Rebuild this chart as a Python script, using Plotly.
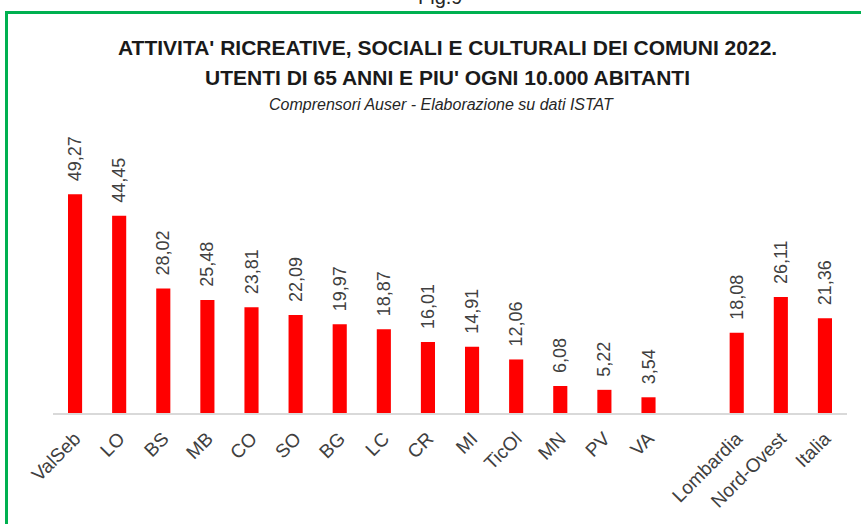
import plotly.graph_objects as go

categories = ["ValSeb", "LO", "BS", "MB", "CO", "SO", "BG", "LC", "CR", "MI",
              "TicOl", "MN", "PV", "VA", " ", "Lombardia", "Nord-Ovest", "Italia"]
values = [49.27, 44.45, 28.02, 25.48, 23.81, 22.09, 19.97, 18.87, 16.01, 14.91,
          12.06, 6.08, 5.22, 3.54, None, 18.08, 26.11, 21.36]
labels = [("" if v is None else "\u00a0\u00a0" + f"{v:.2f}".replace(".", ",")) for v in values]

W, H = 861, 524
L, R, T, B = 53, 14, 120, 111
pw, ph = W - L - R, H - T - B

def px_x(p):
    return (p - L) / pw

def px_y(p):
    return (H - B - p) / ph

sans = "Liberation Sans, Arial, sans-serif"

fig = go.Figure()
fig.add_trace(go.Bar(
    x=categories, y=values, text=labels,
    textposition="outside", textangle=-90, constraintext="none",
    textfont=dict(family=sans, size=18, color="#404040"),
    marker=dict(color="#FF0000", line=dict(width=0)),
    cliponaxis=False,
))

fig.update_layout(
    width=W, height=H,
    margin=dict(l=L, r=R, t=T, b=B, autoexpand=False),
    paper_bgcolor="white", plot_bgcolor="white",
    bargap=0.68,
    showlegend=False,
    xaxis=dict(type="category", categoryorder="array", categoryarray=categories,
               tickangle=-45, showgrid=False, showline=True, linecolor="#d9d9d9",
               linewidth=2, ticks="", automargin=False, ticklabelstandoff=5,
               tickfont=dict(family=sans, size=19, color="#404040")),
    yaxis=dict(range=[0, 66], visible=False, showgrid=False),
)

fig.add_annotation(text="<b>ATTIVITA' RICREATIVE, SOCIALI E CULTURALI DEI COMUNI 2022.</b>",
                   xref="paper", yref="paper", x=px_x(447), y=px_y(48),
                   xanchor="center", yanchor="middle", showarrow=False,
                   font=dict(family=sans, size=21, color="#1a1a1a"))
fig.add_annotation(text="<b>UTENTI DI 65 ANNI E PIU' OGNI 10.000 ABITANTI</b>",
                   xref="paper", yref="paper", x=px_x(447), y=px_y(77),
                   xanchor="center", yanchor="middle", showarrow=False,
                   font=dict(family=sans, size=21, color="#1a1a1a"))
fig.add_annotation(text="<i>Comprensori Auser - Elaborazione su dati ISTAT</i>",
                   xref="paper", yref="paper", x=px_x(441), y=px_y(104),
                   xanchor="center", yanchor="middle", showarrow=False,
                   font=dict(family=sans, size=16, color="#262626"))
fig.add_annotation(text="Fig.9",
                   xref="paper", yref="paper", x=px_x(440), y=px_y(10),
                   xanchor="center", yanchor="bottom", showarrow=False,
                   font=dict(family=sans, size=20, color="#262626"))

green = "#00B050"
fig.add_shape(type="line", xref="paper", yref="paper",
              x0=px_x(5), x1=px_x(880), y0=px_y(12.5), y1=px_y(12.5),
              line=dict(color=green, width=3), layer="above")
fig.add_shape(type="line", xref="paper", yref="paper",
              x0=px_x(6.5), x1=px_x(6.5), y0=px_y(11), y1=px_y(540),
              line=dict(color=green, width=3), layer="above")

fig.write_html("out.html", config={"displayModeBar": False},
               post_script="document.body.style.margin='0';")
